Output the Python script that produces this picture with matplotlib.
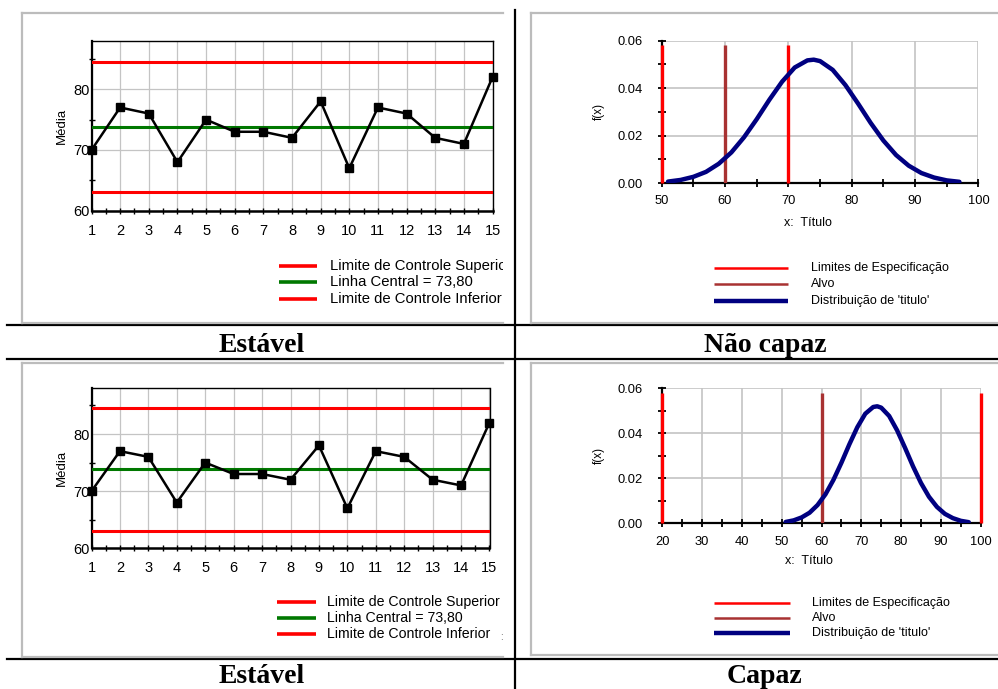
import numpy as np
import matplotlib
matplotlib.use("Agg")
import matplotlib.pyplot as plt

W, H = 998, 689

# dados do grafico de controle (medias por amostra)
amostras = list(range(1, 16))
medias = [70, 77, 76, 68, 75, 73, 73, 72, 78, 67, 77, 76, 72, 71, 82]
lsc, lc, lic = 84.5, 73.8, 63.1

# distribuicao de 'titulo'
dist_x = [51, 53, 55, 57, 59, 61, 63, 65, 67, 69, 71, 73, 74, 75, 77, 79,
          81, 83, 85, 87, 89, 91, 93, 95, 97]
dist_y = [0.0006, 0.0013, 0.0026, 0.0047, 0.0081, 0.0129, 0.0193, 0.0269,
          0.0351, 0.0427, 0.0487, 0.0517, 0.0520, 0.0514, 0.0477, 0.0413,
          0.0335, 0.0253, 0.0179, 0.0118, 0.0073, 0.0042, 0.0023, 0.0011, 0.0005]
spec_nao_capaz = [50, 70]
spec_capaz = [20, 100]
alvo = 60
spec_altura = 0.058

legenda_cc = ["Limite de Controle Superior", "Linha Central = 73,80",
              "Limite de Controle Inferior"]
legenda_cap = ["Limites de Especificação", "Alvo", "Distribuição de 'titulo'"]

SANS = "Liberation Sans"
SERIF = "Liberation Serif"
VERM, VERDE, MARROM, AZUL = "#ff0000", "#007800", "#a83232", "#000080"
GRADE = "#c4c4c4"

plt.rcParams["font.family"] = SANS


def rect(l, t, r, b):
    return [l / W, 1 - b / H, (r - l) / W, (b - t) / H]


fig = plt.figure(figsize=(W / 100, H / 100), dpi=100)

bg = fig.add_axes([0, 0, 1, 1])
bg.set_xlim(0, W); bg.set_ylim(H, 0); bg.axis("off")
bg.set_zorder(0)
# linhas da tabela
bg.plot([515, 515], [10, H], color="k", lw=1.6)
for y in (325, 359, 659):
    bg.plot([7, W], [y, y], color="k", lw=1.6)
for x, y, s in [(262, 352, "Estável"), (765, 352, "Não capaz"),
                (262, 683, "Estável"), (765, 683, "Capaz")]:
    bg.text(x, y, s, ha="center", va="baseline", fontsize=20,
            family=SERIF, weight="bold")


def painel(l, t, r, b):
    ax = fig.add_axes(rect(l, t, r, b))
    ax.set_xlim(l, r); ax.set_ylim(b, t)
    ax.set_xticks([]); ax.set_yticks([])
    for s in ax.spines.values():
        s.set_color("#bcbcbc"); s.set_linewidth(1.6)
    ax.spines["right"].set_visible(False)
    ax.set_zorder(1)
    return ax


def legenda(ax, x0, x1, xt, ys, textos, cores, larg, fs):
    for y, s, c, lw in zip(ys, textos, cores, larg):
        ax.plot([x0, x1], [y, y], color=c, lw=lw, solid_capstyle="butt")
        ax.text(xt, y, s, va="center", ha="left", fontsize=fs, clip_on=True)


def grafico_controle(l, t, r, b):
    ax = fig.add_axes(rect(l, t, r, b))
    ax.set_zorder(2)
    ax.axhline(lsc, color=VERM, lw=2.2, zorder=3)
    ax.axhline(lc, color=VERDE, lw=2.2, zorder=3)
    ax.axhline(lic, color=VERM, lw=2.2, zorder=3)
    ax.plot(amostras, medias, color="k", lw=1.8, marker="s", ms=5.8,
            clip_on=False, zorder=5)
    ax.set_xlim(1, 15); ax.set_ylim(60, 88)
    ax.set_xticks(amostras)
    ax.set_xticks(np.arange(1.5, 15, 1), minor=True)
    ax.set_yticks([60, 70, 80])
    ax.set_yticks([65, 75, 85], minor=True)
    ax.grid(color=GRADE, lw=0.9, zorder=0)
    ax.set_axisbelow(True)
    for s in ax.spines.values():
        s.set_color("k"); s.set_linewidth(1.0)
    ax.spines["left"].set_linewidth(1.6)
    ax.spines["bottom"].set_linewidth(1.8)
    ax.tick_params(axis="x", which="both", direction="inout", length=5,
                   width=1, pad=7, labelsize=10.5)
    ax.tick_params(axis="y", which="major", length=0, pad=1, labelsize=10.5)
    ax.tick_params(axis="y", which="minor", direction="inout", length=5, width=1)
    ax.set_ylabel("Média", fontsize=9.5)
    ax.yaxis.set_label_coords(-0.06, 0.5)
    return ax


def grafico_cap(l, t, r, b, xmin, specs):
    ax = fig.add_axes(rect(l, t, r, b))
    ax.set_zorder(2)
    ax.vlines(specs, 0, spec_altura, color=VERM, lw=2.4, zorder=3,
              clip_on=False)
    ax.vlines([alvo], 0, spec_altura, color=MARROM, lw=2.4, zorder=3)
    ax.plot(dist_x, dist_y, color=AZUL, lw=3.2, zorder=4,
            solid_capstyle="round")
    ax.set_xlim(xmin, 100); ax.set_ylim(0, 0.06)
    ax.set_xticks(np.arange(xmin, 101, 10))
    ax.set_xticks(np.arange(xmin + 5, 100, 10), minor=True)
    ax.set_yticks([0, 0.02, 0.04, 0.06])
    ax.set_yticks([0.01, 0.03, 0.05], minor=True)
    ax.yaxis.set_major_formatter(plt.FormatStrFormatter("%.2f"))
    ax.grid(color=GRADE, lw=1.2, zorder=0)
    ax.set_axisbelow(True)
    ax.spines["top"].set_visible(False)
    ax.spines["right"].set_visible(False)
    ax.spines["left"].set_linewidth(1.6)
    ax.spines["bottom"].set_linewidth(1.6)
    ax.tick_params(axis="x", which="both", direction="inout", length=6,
                   width=1.3, pad=6, labelsize=9.3)
    ax.tick_params(axis="y", which="both", direction="inout", length=6,
                   width=1.3, pad=11, labelsize=9.3)
    ax.set_ylabel("f(x)", fontsize=8.5)
    ax.yaxis.set_label_coords(-0.18, 0.5)
    ax.text(0.462, -0.28, "x:  Título", transform=ax.transAxes,
            ha="center", va="center", fontsize=9)
    return ax


# painel superior esquerdo
p = painel(22, 13, 503, 323)
legenda(p, 279, 317, 330, [266, 282, 299], legenda_cc,
        [VERM, VERDE, VERM], [2.6, 2.6, 2.6], 10.7)
grafico_controle(91.5, 40.7, 492.5, 210.7)

# painel superior direito
p = painel(531, 13, 999, 323)
legenda(p, 714, 788, 811, [268, 284, 301], legenda_cap,
        [VERM, MARROM, AZUL], [1.8, 1.8, 3.2], 9)
grafico_cap(661.7, 40.7, 978.4, 183, 50, spec_nao_capaz)

# painel inferior esquerdo
p = painel(22, 363, 503, 657)
legenda(p, 277, 316, 327, [602, 618, 634], legenda_cc,
        [VERM, VERDE, VERM], [2.6, 2.6, 2.6], 10.2)
p.text(501, 637, ":", fontsize=7, color="#555555", ha="center", va="center")
grafico_controle(91.5, 388.3, 489.5, 548.3)

# painel inferior direito
p = painel(531, 363, 999, 655)
legenda(p, 714, 790, 812, [603, 618, 633], legenda_cap,
        [VERM, MARROM, AZUL], [1.8, 1.8, 3.2], 9)
grafico_cap(662.3, 388.3, 980.7, 523.3, 20, spec_capaz)

fig.savefig("out.png", dpi=100)
